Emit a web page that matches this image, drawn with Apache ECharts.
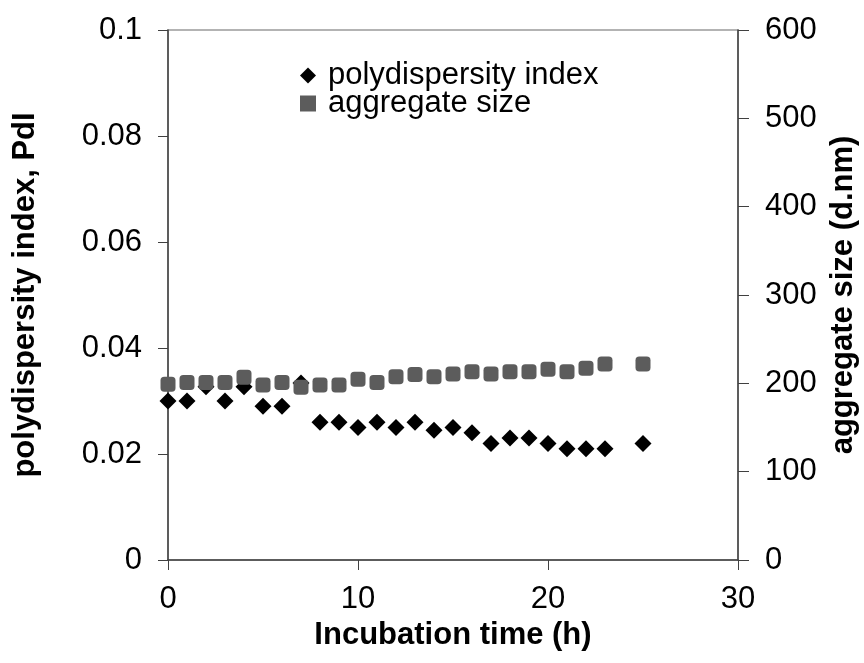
<!DOCTYPE html>
<html>
<head>
<meta charset="utf-8">
<script src="https://cdn.jsdelivr.net/npm/echarts@6/dist/echarts.min.js"></script>
<style>
  html, body { margin: 0; padding: 0; background: #fff; }
  #chart { width: 864px; height: 663px; }
</style>
</head>
<body>
<div id="chart"></div>
<script>
// Incubation time (h)
const hours = [0, 1, 2, 3, 4, 5, 6, 7, 8, 9, 10, 11, 12, 13, 14, 15, 16, 17, 18, 19, 20, 21, 22, 23, 25];
// Polydispersity index (left axis)
const pdi = [0.030, 0.030, 0.0327, 0.030, 0.0327, 0.029, 0.029, 0.0334, 0.026, 0.026, 0.025, 0.026, 0.025,
             0.026, 0.0245, 0.025, 0.024, 0.022, 0.023, 0.023, 0.022, 0.021, 0.021, 0.021, 0.022];
// Aggregate size in d.nm (right axis)
const aggSize = [199, 201, 201, 201, 207, 198, 201, 195.5, 198, 198, 204.5, 201, 207.5,
                 210, 207.5, 210.5, 213, 210.5, 213, 213, 216, 213, 217, 222, 222];

const FONT = '"Liberation Sans", Arial, sans-serif';
const axisColor = '#404040';
const pdiColor = '#000000';
const sizeColor = '#5c5c5c';

const chart = echarts.init(document.getElementById('chart'), null, { renderer: 'canvas' });

const labelStyle = { fontSize: 31, color: '#000', fontFamily: FONT };
const titleStyle = { fontSize: 31, fontWeight: 'bold', color: '#000', fontFamily: FONT };

chart.setOption({
  backgroundColor: '#fff',
  animation: false,
  textStyle: { fontFamily: FONT },
  grid: {
    left: 168, right: 126, top: 30, bottom: 103,
    outerBoundsMode: 'none',
    show: true, borderColor: '#9a9a9a', borderWidth: 1.5
  },
  legend: {
    left: 295, top: 55, orient: 'vertical', itemGap: -3, itemWidth: 16, itemHeight: 16,
    textStyle: { fontSize: 31, color: '#000', fontFamily: FONT, padding: [0, 0, 0, 7] },
    data: [
      { name: 'polydispersity index', icon: 'diamond', itemStyle: { color: pdiColor } },
      { name: 'aggregate size', icon: 'rect', itemStyle: { color: sizeColor } }
    ]
  },
  xAxis: {
    type: 'value', min: 0, max: 30, interval: 10,
    name: 'Incubation time (h)', nameLocation: 'middle', nameGap: 50,
    nameTextStyle: titleStyle,
    axisLine: { show: true, lineStyle: { color: axisColor, width: 1.5 } },
    axisTick: { show: true, inside: false, length: 10, lineStyle: { color: axisColor } },
    axisLabel: Object.assign({ margin: 24 }, labelStyle),
    splitLine: { show: false }
  },
  yAxis: [
    {
      type: 'value', min: 0, max: 0.1, interval: 0.02, position: 'left',
      name: 'polydispersity index, PdI', nameLocation: 'middle', nameGap: 127, nameRotate: 90,
      nameTextStyle: titleStyle,
      axisLine: { show: true, lineStyle: { color: axisColor, width: 1.5 } },
      axisTick: { show: true, inside: false, length: 10, lineStyle: { color: axisColor } },
      axisLabel: Object.assign({ margin: 26, formatter: v => String(+v.toFixed(2)) }, labelStyle),
      splitLine: { show: false }
    },
    {
      type: 'value', min: 0, max: 600, interval: 100, position: 'right',
      name: 'aggregate size (d.nm)', nameLocation: 'middle', nameGap: 88, nameRotate: 90,
      nameTextStyle: titleStyle,
      axisLine: { show: true, lineStyle: { color: axisColor, width: 1.5 } },
      axisTick: { show: true, inside: false, length: 11, lineStyle: { color: axisColor } },
      axisLabel: Object.assign({ margin: 27 }, labelStyle),
      splitLine: { show: false }
    }
  ],
  series: [
    {
      name: 'polydispersity index', type: 'scatter', yAxisIndex: 0,
      symbol: 'diamond', symbolSize: 17,
      itemStyle: { color: pdiColor, opacity: 1 },
      data: hours.map((h, i) => [h, pdi[i]]),
      z: 2
    },
    {
      name: 'aggregate size', type: 'scatter', yAxisIndex: 1,
      symbol: 'roundRect', symbolSize: 15,
      itemStyle: { color: sizeColor, opacity: 1 },
      data: hours.map((h, i) => [h, aggSize[i]]),
      z: 3
    }
  ]
});
</script>
</body>
</html>
